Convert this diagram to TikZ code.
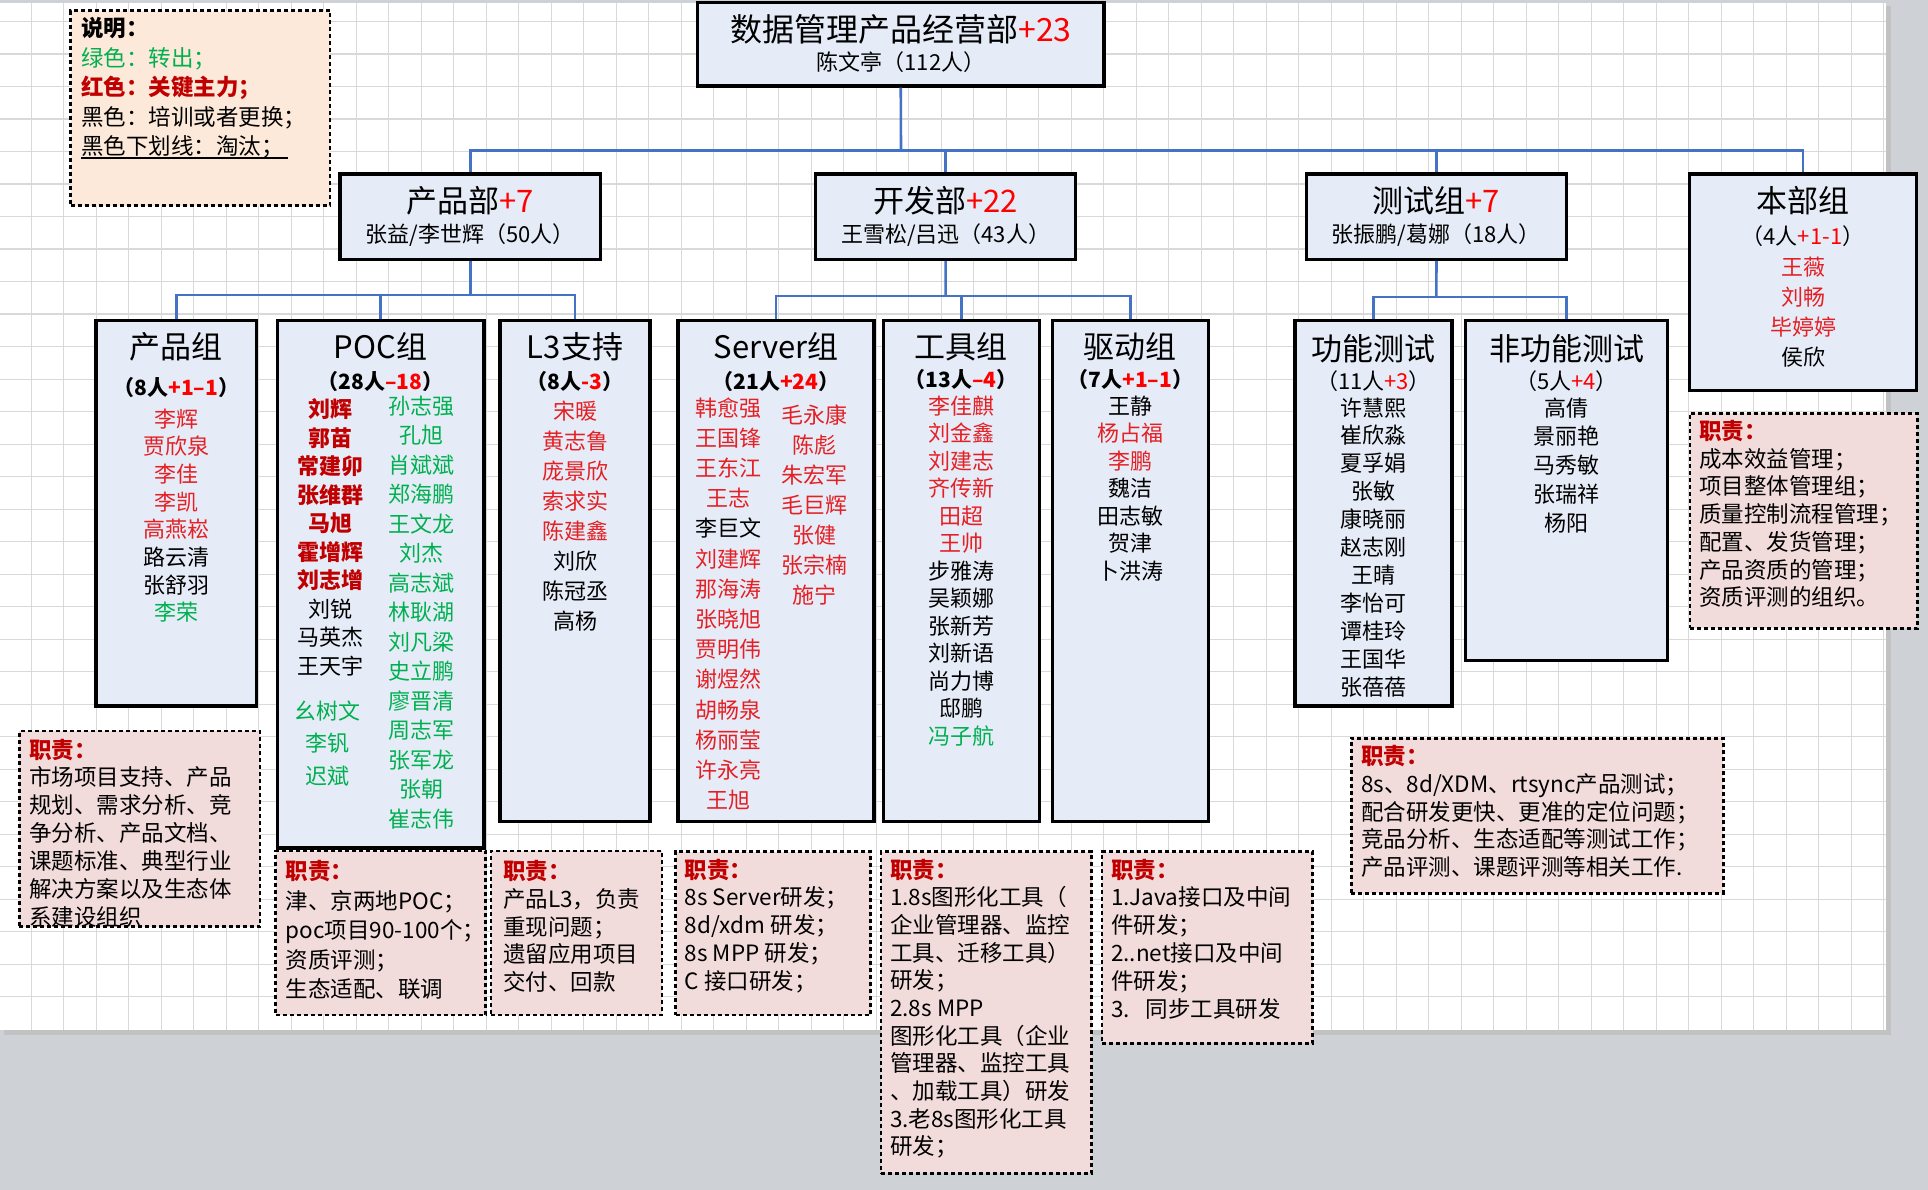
\documentclass[tikz,border=0pt]{standalone}
\usepackage{fontspec}
\setmainfont{Noto Sans CJK SC}
\usetikzlibrary{fit}
\definecolor{boxfill}{RGB}{230,236,247}
\definecolor{dutyfill}{RGB}{242,220,219}
\definecolor{legfill}{RGB}{253,233,217}
\definecolor{conncol}{RGB}{68,114,196}
\definecolor{rn}{RGB}{228,32,36}
\definecolor{dred}{RGB}{192,0,0}
\definecolor{grn}{RGB}{0,176,80}
\definecolor{pluscol}{RGB}{255,0,0}
\definecolor{gridc}{RGB}{217,217,217}
\definecolor{bggray}{RGB}{206,209,214}
\newcommand\redn{\color{rn}}
\newcommand\redb{\color{dred}\bfseries}
\newcommand\grnn{\color{grn}}
\newcommand\pl[1]{\textcolor{pluscol}{#1}}
\newcommand\stack[6]{\foreach \l [count=\i from 0] in {#6}{\node[#5] (#1\i) at (#2,{#3+\i*#4}) {\l};}}
\tikzset{
  orgbox/.style={draw=black, line width=3.2pt, fill=boxfill, inner sep=0pt},
  dutybox/.style={draw=black, line width=2.6pt, dash pattern=on 4pt off 3pt, fill=dutyfill, inner sep=0pt},
  legbox/.style={dutybox, fill=legfill},
  connline/.style={draw=conncol, line width=2.6pt},
  gridline/.style={draw=gridc, line width=1.4pt},
  ttlfont/.style={font=\fontsize{31}{36}\selectfont, anchor=base, inner sep=0pt},
  subfont/.style={font=\fontsize{21}{25}\selectfont, anchor=base, inner sep=0pt},
  sub2font/.style={font=\fontsize{22}{26}\selectfont, anchor=base, inner sep=0pt},
  namefont/.style={font=\fontsize{22}{26}\selectfont, anchor=base, inner sep=0pt},
  dutyfont/.style={font=\fontsize{22.5}{26}\selectfont, anchor=base west, inner sep=0pt},
  legfont/.style={font=\fontsize{22.5}{26}\selectfont, anchor=base west, inner sep=0pt},
}
\begin{document}
\begin{tikzpicture}[x=1pt,y=-1pt]
\useasboundingbox (0,0) rectangle (1928,1190);
% page
\fill[bggray] (0,0) rectangle (1928,1190);
\fill[black!24] (4,6) rectangle (1891,1035);
\fill[white] (0,3) rectangle (1886,1030);
\foreach \k in {0,...,57} \draw[gridline] ({31.2+32.5*\k},3) -- ({31.2+32.5*\k},1030);
\foreach \k in {0,...,30} \draw[gridline] (0,{21.7+32.5*\k}) -- (1886,{21.7+32.5*\k});

% legend
\node[legbox, fit={(70.5,10.7)(330,205.7)}] (leg) {};
\stack{leg}{81}{37}{29.5}{legfont}{\bfseries 说明：,\grnn 绿色：转出；,\redb 红色：关键主力；,黑色：培训或者更换；,黑色下划线：淘汰；}
\draw[line width=1.3pt] ([yshift=-3pt]leg4.base west) -- ([yshift=-3pt,xshift=4pt]leg4.base east);

% top
\node[orgbox, fit={(697.5,2.7)(1104,86)}] (top) {};
\node[ttlfont, font=\fontsize{32}{36}\selectfont] (topt) at (901,41.5) {数据管理产品经营部\pl{+23}};
\node[sub2font] (tops) at (901,71) {陈文亭（112人）};

% level 2
\node[orgbox, fit={(340,174)(600.4,259.3)}] (cpb) {};
\node[ttlfont] (cpbt) at (470.2,213) {产品部\pl{+7}};
\node[sub2font] (cpbs) at (470.2,243) {张益/李世辉（50人）};
\node[orgbox, fit={(815.4,174)(1075.8,259.3)}] (kfb) {};
\node[ttlfont] (kfbt) at (945.6,213) {开发部\pl{+22}};
\node[sub2font] (kfbs) at (945.6,243) {王雪松/吕迅（43人）};
\node[orgbox, fit={(1306.7,174)(1566.2,259.3)}] (csz) {};
\node[ttlfont] (cszt) at (1436.4,213) {测试组\pl{+7}};
\node[sub2font] (cszs) at (1436.4,243) {张振鹏/葛娜（18人）};
\node[orgbox, fit={(1689.5,174)(1916.4,390.7)}] (bbz) {};
\node[ttlfont] (bbzt) at (1803,213) {本部组};
\node[sub2font] (bbzs) at (1803,245) {（4人\pl{+1-1}）};
\stack{bbn}{1803}{276}{30}{namefont}{\redn 王薇,\redn 刘畅,\redn 毕婷婷,侯欣}

% level 3 boxes
\node[orgbox, fit={(96,320.4)(256.7,706)}] (cpz) {};
\node[orgbox, fit={(277.3,320.4)(484,848)}] (poc) {};
\node[orgbox, fit={(500,320.4)(650,821.4)}] (l3) {};
\node[orgbox, fit={(678,320.4)(874,821.4)}] (srv) {};
\node[orgbox, fit={(883.3,320.4)(1039.3,821.4)}] (tool) {};
\node[orgbox, fit={(1052.3,320.4)(1208.3,821.4)}] (drv) {};
\node[orgbox, fit={(1295,320.7)(1452,706)}] (fn) {};
\node[orgbox, fit={(1465.6,320.7)(1667.5,660.7)}] (nfn) {};

% connectors
\coordinate (bus0) at (901,150.5);
\draw[connline] (top.south) -- (bus0);
\draw[connline] (bus0) -| (cpb.north);
\draw[connline] (bus0) -| (kfb.north);
\draw[connline] (bus0) -| (csz.north);
\draw[connline] (bus0) -| (bbz.north);
\coordinate (bus1) at (470.2,295);
\draw[connline] (cpb.south) -- (bus1);
\draw[connline] (bus1) -| (cpz.north);
\draw[connline] (bus1) -| (poc.north);
\draw[connline] (bus1) -| (l3.north);
\coordinate (bus2) at (945.6,296);
\draw[connline] (kfb.south) -- (bus2);
\draw[connline] (bus2) -| (srv.north);
\draw[connline] (bus2) -| (tool.north);
\draw[connline] (bus2) -| (drv.north);
\coordinate (bus3) at (1436.4,297);
\draw[connline] (csz.south) -- (bus3);
\draw[connline] (bus3) -| (fn.north);
\draw[connline] (bus3) -| (nfn.north);

% level 3 texts
\node[ttlfont] (cpzt) at (176.3,359) {产品组};
\node[subfont, font=\fontsize{21}{25}\selectfont\bfseries] (cpzs) at (176.3,395) {（8人\pl{+1–1}）};
\stack{cpzn}{176.3}{427}{27.7}{namefont}{\redn 李辉,\redn 贾欣泉,\redn 李佳,\redn 李凯,\redn 高燕崧,路云清,张舒羽,\grnn 李荣}

\node[ttlfont] (poct) at (380.6,359) {POC组};
\node[subfont, font=\fontsize{21}{25}\selectfont\bfseries] (pocs) at (380.6,389) {（28人\pl{–18}）};
\stack{pocl}{330}{417.5}{28.5}{namefont}{\redb 刘辉,\redb 郭苗,\redb 常建卯,\redb 张维群,\redb 马旭,\redb 霍增辉,\redb 刘志增,刘锐,马英杰,王天宇}
\stack{pocg}{327}{719}{32.7}{namefont}{\grnn 幺树文,\grnn 李钒,\grnn 迟斌}
\stack{pocr}{421.5}{414}{29.5}{namefont}{\grnn 孙志强,\grnn 孔旭,\grnn 肖斌斌,\grnn 郑海鹏,\grnn 王文龙,\grnn 刘杰,\grnn 高志斌,\grnn 林耿湖,\grnn 刘凡梁,\grnn 史立鹏,\grnn 廖晋清,\grnn 周志军,\grnn 张军龙,\grnn 张朝,\grnn 崔志伟}

\node[ttlfont] (l3t) at (575,359) {L3支持};
\node[subfont, font=\fontsize{21}{25}\selectfont\bfseries] (l3s) at (575,389) {（8人\pl{-3}）};
\stack{l3n}{575}{419}{30.1}{namefont}{\redn 宋暖,\redn 黄志鲁,\redn 庞景欣,\redn 索求实,\redn 陈建鑫,刘欣,陈冠丞,高杨}

\node[ttlfont] (srvt) at (776,359) {Server组};
\node[subfont, font=\fontsize{21}{25}\selectfont\bfseries] (srvs) at (776,389) {（21人\pl{+24}）};
\stack{srvl}{728}{416}{30.2}{namefont}{\redn 韩愈强,\redn 王国锋,\redn 王东江,\redn 王志,李巨文,\redn 刘建辉,\redn 那海涛,\redn 张晓旭,\redn 贾明伟,\redn 谢煜然,\redn 胡畅泉,\redn 杨丽莹,\redn 许永亮,\redn 王旭}
\stack{srvr}{814}{423}{30}{namefont}{\redn 毛永康,\redn 陈彪,\redn 朱宏军,\redn 毛巨辉,\redn 张健,\redn 张宗楠,\redn 施宁}

\node[ttlfont] (toolt) at (961.3,359) {工具组};
\node[subfont, font=\fontsize{21}{25}\selectfont\bfseries] (tools) at (961.3,388) {（13人\pl{–4}）};
\stack{tooln}{961.3}{414}{27.5}{namefont}{\redn 李佳麒,\redn 刘金鑫,\redn 刘建志,\redn 齐传新,\redn 田超,\redn 王帅,步雅涛,吴颖娜,张新芳,刘新语,尚力博,邸鹏,\grnn 冯子航}

\node[ttlfont] (drvt) at (1130.3,359) {驱动组};
\node[subfont, font=\fontsize{21}{25}\selectfont\bfseries] (drvs) at (1130.3,388) {（7人\pl{+1–1}）};
\stack{drvn}{1130.3}{414}{27.5}{namefont}{王静,\redn 杨占福,\redn 李鹏,魏洁,田志敏,贺津,卜洪涛}

\node[ttlfont] (fnt) at (1373.5,360) {功能测试};
\node[sub2font] (fns) at (1373.5,389) {（11人\pl{+3}）};
\stack{fnn}{1373.5}{416}{27.9}{namefont}{许慧熙,崔欣淼,夏孚娟,张敏,康晓丽,赵志刚,王晴,李怡可,谭桂玲,王国华,张蓓蓓}

\node[ttlfont] (nfnt) at (1566.5,360) {非功能测试};
\node[sub2font] (nfns) at (1566.5,389) {（5人\pl{+4}）};
\stack{nfnn}{1566.5}{416}{28.75}{namefont}{高倩,景丽艳,马秀敏,张瑞祥,杨阳}

% duty boxes
\node[dutybox, fit={(19.2,731)(260,926.7)}] (cpzd) {};
\stack{cpzdt}{29}{758}{27.9}{dutyfont}{\redb 职责：,市场项目支持、产品,规划、需求分析、竞,争分析、产品文档、,课题标准、典型行业,解决方案以及生态体,系建设组织}
\node[dutybox, fit={(275.5,851)(485.7,1015)}] (pocd) {};
\stack{pocdt}{285.7}{879.5}{29.5}{dutyfont}{\redb 职责：,津、京两地POC；,poc项目90-100个；,资质评测；,生态适配、联调}
\node[dutybox, fit={(491,851)(662,1015)}] (l3d) {};
\stack{l3dt}{503}{879.5}{27.8}{dutyfont}{\redb 职责：,产品L3，负责,重现问题；,遗留应用项目,交付、回款}
\node[dutybox, fit={(675.6,851.7)(870.7,1015)}] (srvd) {};
\stack{srvdt}{684.5}{878}{27.9}{dutyfont}{\redb 职责：,8s Server研发；,8d/xdm 研发；,8s MPP 研发；,C 接口研发；}
\node[dutybox, fit={(881,851.7)(1091.7,1173.3)}] (toold) {};
\stack{tooldt}{890}{878}{27.67}{dutyfont}{\redb 职责：,1.8s图形化工具（,企业管理器、监控,工具、迁移工具）,研发；,2.8s MPP,图形化工具（企业,管理器、监控工具,、加载工具）研发,3.老8s图形化工具,研发；}
\node[dutybox, fit={(1102,851.7)(1312.6,1043.3)}] (drvd) {};
\stack{drvdt}{1111}{878}{27.8}{dutyfont}{\redb 职责：,1.Java接口及中间,件研发；,2..net接口及中间,件研发；,3.\hspace{0.7em}同步工具研发}
\node[dutybox, fit={(1351.3,738.3)(1723.3,893.3)}] (csd) {};
\stack{csdt}{1361}{764.5}{27.8}{dutyfont}{\redb 职责：,8s、8d/XDM、rtsync产品测试；,配合研发更快、更准的定位问题；,竞品分析、生态适配等测试工作；,产品评测、课题评测等相关工作.}
\node[dutybox, fit={(1689.8,413.3)(1917.3,628.3)}] (bbd) {};
\stack{bbdt}{1699}{439.5}{27.7}{dutyfont}{\redb 职责：,成本效益管理；,项目整体管理组；,质量控制流程管理；,配置、发货管理；,产品资质的管理；,资质评测的组织。}
\end{tikzpicture}
\end{document}
